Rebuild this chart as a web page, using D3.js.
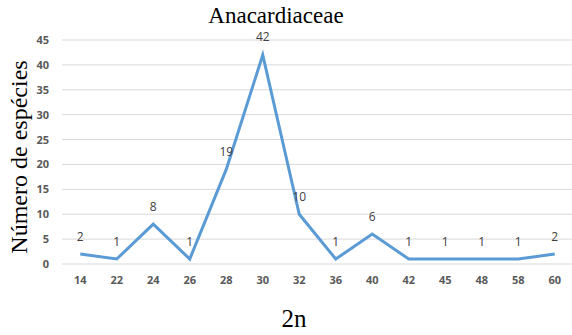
<!DOCTYPE html>
<html><head><meta charset="utf-8">
<script src="https://cdnjs.cloudflare.com/ajax/libs/d3/7.8.5/d3.min.js"></script>
<style>body{margin:0;background:#fff}svg{display:block}
.serif{font-family:'Liberation Serif','Times New Roman','DejaVu Serif',serif}
.sans{font-family:'Open Sans','Liberation Sans',Arial,sans-serif}</style>
</head><body>
<svg id="c" width="572" height="335"></svg>
<script>
const categories = ["14","22","24","26","28","30","32","36","40","42","45","48","58","60"];
const values = [2,1,8,1,19,42,10,1,6,1,1,1,1,2];
const yTicks = [0,5,10,15,20,25,30,35,40,45];

(function(){
const svg = d3.select("#c");
const mL = 62, mR = 573, mT = 40, mB = 264;
const x = d3.scaleBand().domain(categories).range([mL, mR]);
const y = d3.scaleLinear().domain([0,45]).range([mB, mT]);

svg.append("g").selectAll("line").data(yTicks).join("line")
  .attr("x1", mL).attr("x2", mR)
  .attr("y1", d=>y(d)).attr("y2", d=>y(d))
  .attr("stroke", "#d9d9d9").attr("stroke-width", 1);

const yAxis = d3.axisLeft(y).tickValues(yTicks).tickSize(0).tickPadding(0);
const gy = svg.append("g").attr("transform", `translate(${mL-13},0)`).call(yAxis);
gy.select(".domain").remove();
gy.selectAll("text").attr("class","sans").attr("font-size",11).attr("font-weight","bold").attr("fill","#595959");

const xAxis = d3.axisBottom(x).tickSize(0).tickPadding(0);
const gx = svg.append("g").attr("transform", `translate(0,${mB+12})`).call(xAxis);
gx.select(".domain").remove();
gx.selectAll("text").attr("class","sans").attr("font-size",11).attr("font-weight","bold").attr("fill","#595959");
gy.attr("font-family",null); gx.attr("font-family",null);

const line = d3.line().x((d,i)=>x(categories[i])+x.bandwidth()/2).y(d=>y(d));
svg.append("path").datum(values).attr("d", line)
  .attr("fill","none").attr("stroke","#5b9bd5").attr("stroke-width",3).attr("stroke-linejoin","miter");

svg.append("g").selectAll("text").data(values).join("text")
  .attr("class","sans")
  .attr("x",(d,i)=>x(categories[i])+x.bandwidth()/2)
  .attr("y", d=>y(d)-13.5)
  .attr("text-anchor","middle")
  .attr("font-size",12).attr("fill","#404040")
  .text(d=>d);

svg.append("text").attr("class","serif").attr("x",276).attr("y",23).attr("text-anchor","middle")
  .attr("font-size",23).attr("fill","#000")
  .text("Anacardiaceae");

svg.append("text").attr("class","serif").attr("transform","translate(27,157) rotate(-90)").attr("text-anchor","middle")
  .attr("font-size",24).attr("fill","#000")
  .text("Número de espécies");

svg.append("text").attr("class","serif").attr("x",294).attr("y",327).attr("text-anchor","middle")
  .attr("font-size",25).attr("fill","#000")
  .text("2n");
})();
</script>
</body></html>
